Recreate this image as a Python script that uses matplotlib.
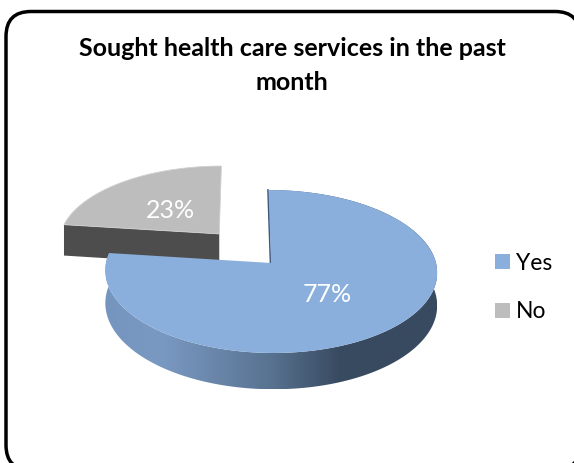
import numpy as np
import matplotlib
matplotlib.use("Agg")
import matplotlib.pyplot as plt
from matplotlib.patches import Polygon, FancyBboxPatch, Rectangle
from matplotlib.colors import LinearSegmentedColormap

categories = ["Yes", "No"]
values = [77, 23]
labels = ["77%", "23%"]
colors = ["#8aafdc", "#bdbdbd"]
title = "Sought health care services in the past\nmonth"

W, H = 574, 463
fig = plt.figure(figsize=(W/100, H/100), dpi=100)
ax = fig.add_axes([0, 0, 1, 1])
ax.set_xlim(0, W); ax.set_ylim(H, 0); ax.axis("off")
plt.rcParams["font.family"] = ["Lato", "DejaVu Sans"]

# chart frame (runs past the right and bottom edges of the picture)
ax.add_patch(FancyBboxPatch((31, 36.5), 524, 408.5, boxstyle="round,pad=25,rounding_size=25",
                            fc="white", ec="black", lw=2.5, clip_on=True))

# perspective disc projection
CX, CY, RX, RY, C, DEPTH, SKEW = 271, 263, 165, 80.6, 0.1043, 32.5, 2.5
def project(u, v, dz=0.0):
    d = 1 + C*v
    return CX + RX*u/d - SKEW*v, CY - RY*v/d + dz/d

def arc(a0, a1, n=160):
    t = np.radians(np.linspace(a0, a1, n))
    return np.sin(t), np.cos(t)

total = sum(values)
yes_end = 360*values[0]/total

# exploded "No" slice
ex, ey = -0.32, 0.375
u, v = arc(yes_end, 360)
ax_, ay_ = project(ex, ey)
lx, ly = project(u[0]+ex, v[0]+ey)
lx2, ly2 = project(u[0]+ex, v[0]+ey, DEPTH)
ax2, ay2 = project(ex, ey, DEPTH)
ax.add_patch(Polygon([(lx, ly), (ax_, ay_), (ax2, ay2), (lx2, ly2)], fc="#4d4d4d", ec="none", zorder=2))
px, py = project(u+ex, v+ey)
ax.add_patch(Polygon(np.r_[[(ax_, ay_)], np.c_[px, py]], fc=colors[1], ec="#d0d0d0", lw=0.6, zorder=3))

# main "Yes" slice: side wall with horizontal gradient
u, v = arc(0, yes_end, 400)
tx, ty = project(u, v)
bx, by = project(u, v, DEPTH)
cmap = LinearSegmentedColormap.from_list(
    "side", [(0, "#7595bf"), (0.17, "#7a99c2"), (0.5, "#587290"), (0.71, "#384a60"), (1, "#384a60")])
im = ax.imshow(np.linspace(0, 1, 256).reshape(1, -1), extent=(tx.min(), tx.max(), by.max(), ty.min()),
               cmap=cmap, aspect="auto", zorder=4)
side = Polygon(np.r_[np.c_[tx, ty], np.c_[bx, by][::-1]], fc="none", ec="none", zorder=4)
ax.add_patch(side)
im.set_clip_path(side)
ax.set_xlim(0, W); ax.set_ylim(H, 0)
ax.plot([CX-0.5, tx[0]-0.5], [CY, ty[0]], color="#3f5779", lw=1.2, zorder=4)
ax.add_patch(Polygon(np.r_[[(CX, CY)], np.c_[tx, ty]], fc=colors[0], ec="none", zorder=5))

# text
ax.text(292, 65.5, title, ha="center", va="center", fontsize=18, fontweight="bold",
        color="black", linespacing=1.58, zorder=6)
ax.text(327.5, 294.5, labels[0], ha="center", va="center", fontsize=18, color="white", zorder=6)
ax.text(170, 211, labels[1], ha="center", va="center", fontsize=18, color="white", zorder=6)

# legend
for name, col, y in zip(categories, colors, [261.5, 310]):
    ax.add_patch(Rectangle((495, y-7.5), 15, 15, fc=col, ec="none", zorder=6))
    ax.text(516, y+1.5, name, ha="left", va="center", fontsize=16.5, color="black", zorder=6)

fig.savefig("out.png", dpi=100)
